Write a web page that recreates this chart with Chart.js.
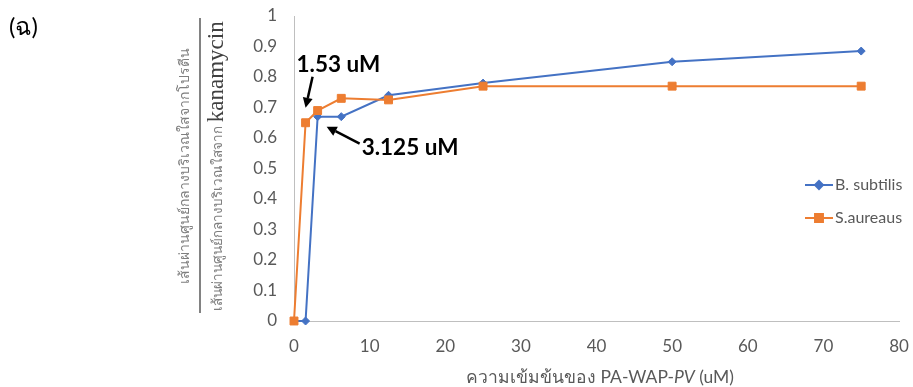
<!DOCTYPE html>
<html>
<head>
<meta charset="utf-8">
<script src="https://cdn.jsdelivr.net/npm/chart.js@4/dist/chart.umd.min.js"></script>
<style>
  html, body { margin: 0; padding: 0; background: #ffffff; }
  #wrap { width: 913px; height: 387px; position: relative; }
</style>
</head>
<body>
<div id="wrap"><canvas id="c" width="913" height="387"></canvas></div>
<script>
// Concentrations of PA-WAP-PV (uM) and the inhibition-zone ratios per organism
const concentrations = [0, 1.53, 3.125, 6.25, 12.5, 25, 50, 75];
const bSubtilis = [0, 0, 0.67, 0.67, 0.74, 0.78, 0.85, 0.885];
const sAureus = [0, 0.65, 0.69, 0.73, 0.725, 0.77, 0.77, 0.77];
const seriesNames = ['B. subtilis', 'S.aureaus'];
const xTicks = [0, 10, 20, 30, 40, 50, 60, 70, 80];
const yTicks = [0, 0.1, 0.2, 0.3, 0.4, 0.5, 0.6, 0.7, 0.8, 0.9, 1];

const panelLabel = '(ฉ)';
const xTitleParts = [['ความเข้มข้นของ PA-WAP-', false], ['PV', true], [' (uM)', false]];
const yTitleTop = 'เส้นผ่านศูนย์กลางบริเวณใสจากโปรตีน';
const yTitleBottomThai = 'เส้นผ่านศูนย์กลางบริเวณใสจาก ';
const yTitleBottomLatin = 'kanamycin';

const seriesValues = [bSubtilis, sAureus];

// Callouts point at the first responding concentration of each series
const callouts = [
  { series: 1, index: 1, tip: [0, -15], tail: [7, -46], text: [-9, -58] },
  { series: 0, index: 2, tip: [9, 10], tail: [42, 27], text: [44, 31] }
];

const BLUE = '#4472C4';
const ORANGE = '#ED7D31';
const TEXT = '#595959';
const AXIS = '#BFBFBF';
const FONT = 'Lato, "Open Sans", sans-serif';

function drawArrow(ctx, x1, y1, x2, y2) {
  const ang = Math.atan2(y2 - y1, x2 - x1);
  const head = 10, half = 5;
  const bx = x2 - head * Math.cos(ang), by = y2 - head * Math.sin(ang);
  ctx.beginPath();
  ctx.moveTo(x1, y1);
  ctx.lineTo(bx, by);
  ctx.stroke();
  ctx.beginPath();
  ctx.moveTo(x2, y2);
  ctx.lineTo(bx + half * Math.sin(ang), by - half * Math.cos(ang));
  ctx.lineTo(bx - half * Math.sin(ang), by + half * Math.cos(ang));
  ctx.closePath();
  ctx.fill();
}

const decorations = {
  id: 'decorations',
  afterDatasetsDraw(chart) {
    const ctx = chart.ctx;
    const xs = chart.scales.x, ys = chart.scales.y;
    ctx.save();

    // callout arrows and labels
    ctx.strokeStyle = '#000';
    ctx.fillStyle = '#000';
    ctx.lineWidth = 2.5;
    ctx.font = 'bold 22.5px ' + FONT;
    ctx.textAlign = 'left';
    ctx.textBaseline = 'middle';
    callouts.forEach(c => {
      const px = xs.getPixelForValue(concentrations[c.index]);
      const py = ys.getPixelForValue(seriesValues[c.series][c.index]);
      drawArrow(ctx, px + c.tail[0], py + c.tail[1], px + c.tip[0], py + c.tip[1]);
      ctx.fillText(concentrations[c.index] + ' uM', px + c.text[0], py + c.text[1]);
    });

    // panel label
    ctx.fillStyle = '#000';
    ctx.font = '24px ' + FONT;
    ctx.textAlign = 'left';
    ctx.fillText(panelLabel, 9, 27);

    // x axis title with italic PV
    ctx.fillStyle = TEXT;
    ctx.textBaseline = 'middle';
    const xf = '17.5px ' + FONT, xfi = 'italic 17.5px ' + FONT;
    let total = 0;
    xTitleParts.forEach(([t, it]) => { ctx.font = it ? xfi : xf; total += ctx.measureText(t).width; });
    let cx = 600 - total / 2;
    xTitleParts.forEach(([t, it]) => {
      ctx.font = it ? xfi : xf;
      ctx.fillText(t, cx, 377);
      cx += ctx.measureText(t).width;
    });

    // y axis title written as a fraction
    const mid = 166;
    ctx.save();
    ctx.rotate(-Math.PI / 2);
    ctx.textAlign = 'center';
    ctx.textBaseline = 'alphabetic';
    ctx.fillStyle = '#7F7F7F';
    ctx.font = '14px ' + FONT;
    ctx.fillText(yTitleTop, -mid, 189);
    // fraction bar
    ctx.strokeStyle = '#595959';
    ctx.lineWidth = 1.5;
    ctx.beginPath();
    ctx.moveTo(-313, 200);
    ctx.lineTo(-18, 200);
    ctx.stroke();
    // denominator: Thai part + serif "kanamycin"
    const thaiFont = '13.5px ' + FONT, latFont = '23px "Liberation Serif", "DejaVu Serif", serif';
    ctx.font = thaiFont; const w1 = ctx.measureText(yTitleBottomThai).width;
    ctx.font = latFont; const w2 = ctx.measureText(yTitleBottomLatin).width;
    const sx = -mid - (w1 + w2) / 2;
    ctx.textAlign = 'left';
    ctx.font = thaiFont; ctx.fillStyle = '#7F7F7F';
    ctx.fillText(yTitleBottomThai, sx, 222);
    ctx.font = latFont; ctx.fillStyle = '#404040';
    ctx.fillText(yTitleBottomLatin, sx + w1, 223);
    ctx.restore();

    // legend
    const items = [
      { name: seriesNames[0], color: BLUE, style: 'rectRot', r: 4, y: 185 },
      { name: seriesNames[1], color: ORANGE, style: 'rect', r: 5.6, y: 218 }
    ];
    items.forEach(it => {
      ctx.strokeStyle = it.color;
      ctx.lineWidth = 2;
      ctx.beginPath();
      ctx.moveTo(805, it.y);
      ctx.lineTo(833, it.y);
      ctx.stroke();
      ctx.fillStyle = it.color;
      Chart.helpers.drawPoint(ctx, { pointStyle: it.style, radius: it.r, borderWidth: 1, rotation: 0 }, 819, it.y);
      ctx.fill();
      ctx.fillStyle = TEXT;
      ctx.font = '16px ' + FONT;
      ctx.textAlign = 'left';
      ctx.textBaseline = 'middle';
      ctx.fillText(it.name, 835, it.y);
    });

    ctx.restore();
  }
};

const toPoints = vals => vals.map((v, i) => ({ x: concentrations[i], y: v }));

new Chart(document.getElementById('c'), {
  type: 'line',
  data: {
    datasets: [
      {
        label: seriesNames[0],
        data: toPoints(bSubtilis),
        borderColor: BLUE,
        backgroundColor: BLUE,
        borderWidth: 2,
        pointStyle: 'rectRot',
        pointRadius: 4,
        pointBorderWidth: 1,
        tension: 0,
        clip: false,
        order: 1
      },
      {
        label: seriesNames[1],
        data: toPoints(sAureus),
        borderColor: ORANGE,
        backgroundColor: ORANGE,
        borderWidth: 2,
        pointStyle: 'rect',
        pointRadius: 5.6,
        pointBorderWidth: 1,
        tension: 0,
        clip: false,
        order: 0
      }
    ]
  },
  options: {
    responsive: false,
    animation: false,
    devicePixelRatio: 1,
    layout: { padding: { top: 16, right: 14, bottom: 0, left: 0 } },
    plugins: { legend: { display: false }, tooltip: { enabled: false } },
    scales: {
      x: {
        type: 'linear',
        min: 0,
        max: 80,
        afterBuildTicks: s => { s.ticks = xTicks.map(v => ({ value: v })); },
        afterFit: s => { s.height = 66; s.paddingLeft = 0; s.paddingRight = 0; },
        grid: { display: false, drawTicks: false },
        border: { display: true, color: AXIS, width: 1 },
        ticks: { color: TEXT, font: { family: FONT, size: 17 }, padding: 15, maxRotation: 0 }
      },
      y: {
        min: 0,
        max: 1,
        afterBuildTicks: s => { s.ticks = yTicks.map(v => ({ value: v })); },
        afterFit: s => { s.width = 294; s.paddingTop = 0; s.paddingBottom = 0; },
        grid: { display: false, drawTicks: false },
        border: { display: true, color: AXIS, width: 1 },
        ticks: {
          color: TEXT,
          font: { family: FONT, size: 17 },
          padding: 17,
          callback: v => String(Number(v.toFixed(1)))
        }
      }
    }
  },
  plugins: [decorations]
});
</script>
</body>
</html>
